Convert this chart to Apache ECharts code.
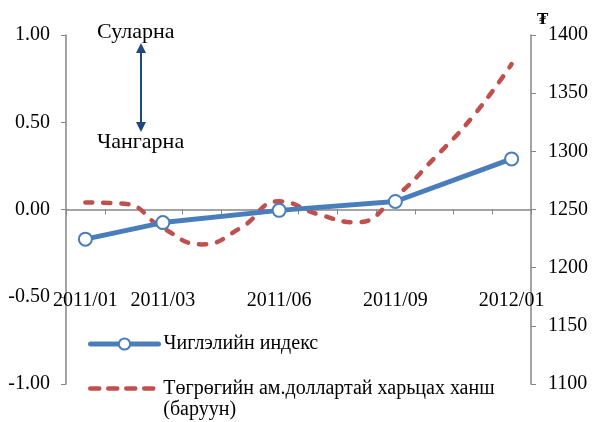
<!DOCTYPE html>
<html>
<head>
<meta charset="utf-8">
<script src="https://cdn.jsdelivr.net/npm/echarts@6/dist/echarts.min.js"></script>
<style>html,body{margin:0;padding:0;background:#fff}#c{width:592px;height:422px}</style>
</head>
<body>
<div id="c"></div>
<script>
var categories = ['2011/01','2011/02','2011/03','2011/04','2011/05','2011/06','2011/07','2011/08','2011/09','2011/10','2011/11','2012/01'];
var labelIdx = [0, 2, 5, 8, 11];
var indexName = 'Чиглэлийн индекс';
var rateName = 'Төгрөгийн ам.доллартай харьцах ханш (баруун)';
var indexValues = [-0.17, null, -0.075, null, null, -0.005, null, null, 0.046, null, null, 0.29];
var rateValues = [1256, 1255, 1234, 1220, 1234, 1257, 1246, 1239, 1261, 1294, 1330, 1375];
var leftTicks = {min: -1, max: 1, interval: 0.5};
var rightTicks = {min: 1100, max: 1400, interval: 50};

var FONT = '"Liberation Serif", "Times New Roman", serif';
var AX = '#868686';
var BLUE = '#4A7EBB';
var RED = '#C0504D';
var GRID_H = 349;
var chart = echarts.init(document.getElementById('c'));
chart.setOption({
  animation: false,
  textStyle: {fontFamily: FONT},
  grid: {left: 66, right: 61, top: 35, height: GRID_H, containLabel: false, outerBoundsMode: 'none'},
  legend: [{
    data: [indexName], left: 88, top: 334, orient: 'vertical', padding: 0,
    itemWidth: 68, itemHeight: 14, itemGap: 8,
    lineStyle: {width: 5, cap: 'round'},
    itemStyle: {borderWidth: 2},
    textStyle: {fontFamily: FONT, fontSize: 20, color: '#000'}
  }, {
    data: [{name: rateName, itemStyle: {opacity: 0}}], left: 88, top: 357, orient: 'vertical', padding: 0,
    itemWidth: 68, itemHeight: 14,
    lineStyle: {width: 4.5, type: [9, 9], cap: 'round'},
    formatter: function (n) { return ' \n' + n.replace(' (баруун)', '\n(баруун)'); },
    textStyle: {fontFamily: FONT, fontSize: 20, color: '#000', lineHeight: 21}
  }],
  xAxis: {
    type: 'category', data: categories, boundaryGap: true,
    position: 'bottom', offset: -GRID_H / 2,
    axisLine: {onZero: false, lineStyle: {color: AX, width: 1.5}},
    axisTick: {show: true, interval: 0, length: 5, lineStyle: {color: AX}},
    axisLabel: {interval: function (i) { return labelIdx.indexOf(i) >= 0; }, margin: 81,
      fontFamily: FONT, fontSize: 20, color: '#000'},
    splitLine: {show: false}
  },
  yAxis: [{
    type: 'value', min: leftTicks.min, max: leftTicks.max, interval: leftTicks.interval,
    axisLine: {show: true, lineStyle: {color: AX, width: 1.5}},
    axisTick: {show: true, length: 5, lineStyle: {color: AX}},
    axisLabel: {margin: 16, fontFamily: FONT, fontSize: 20, color: '#000',
      formatter: function (v) { return v.toFixed(2); }},
    splitLine: {show: false}
  }, {
    type: 'value', position: 'right', min: rightTicks.min, max: rightTicks.max, interval: rightTicks.interval,
    axisLine: {show: true, lineStyle: {color: AX, width: 1.5}},
    axisTick: {show: true, length: 5, lineStyle: {color: AX}},
    axisLabel: {margin: 17, fontFamily: FONT, fontSize: 20, color: '#000',
      formatter: function (v) { return String(v); }},
    splitLine: {show: false}
  }],
  series: [{
    name: rateName, type: 'line', yAxisIndex: 1, data: rateValues,
    smooth: 0.5, symbol: 'none',
    lineStyle: {color: RED, width: 4.5, type: [7, 11], cap: 'round'},
    itemStyle: {color: RED}, z: 2
  }, {
    name: indexName, type: 'line', yAxisIndex: 0, data: indexValues,
    connectNulls: true, symbol: 'circle', symbolSize: 13,
    lineStyle: {color: BLUE, width: 5},
    itemStyle: {color: '#fff', borderColor: BLUE, borderWidth: 2}, z: 3
  }],
  graphic: [
    {type: 'text', left: 97, top: 21, style: {text: 'Суларна', font: '22px ' + FONT, fill: '#000'}},
    {type: 'text', left: 97, top: 131, style: {text: 'Чангарна', font: '22px ' + FONT, fill: '#000'}},
    {type: 'line', shape: {x1: 141, y1: 50, x2: 141, y2: 124}, style: {stroke: '#1F497D', lineWidth: 2}},
    {type: 'polygon', shape: {points: [[141, 43], [136, 53], [146, 53]]}, style: {fill: '#1F497D'}},
    {type: 'polygon', shape: {points: [[141, 132], [136, 122], [146, 122]]}, style: {fill: '#1F497D'}},
    {type: 'text', left: 537, top: 11, style: {text: '₮', font: 'bold 17px ' + FONT, fill: '#000'}}
  ]
});
</script>
</body>
</html>
